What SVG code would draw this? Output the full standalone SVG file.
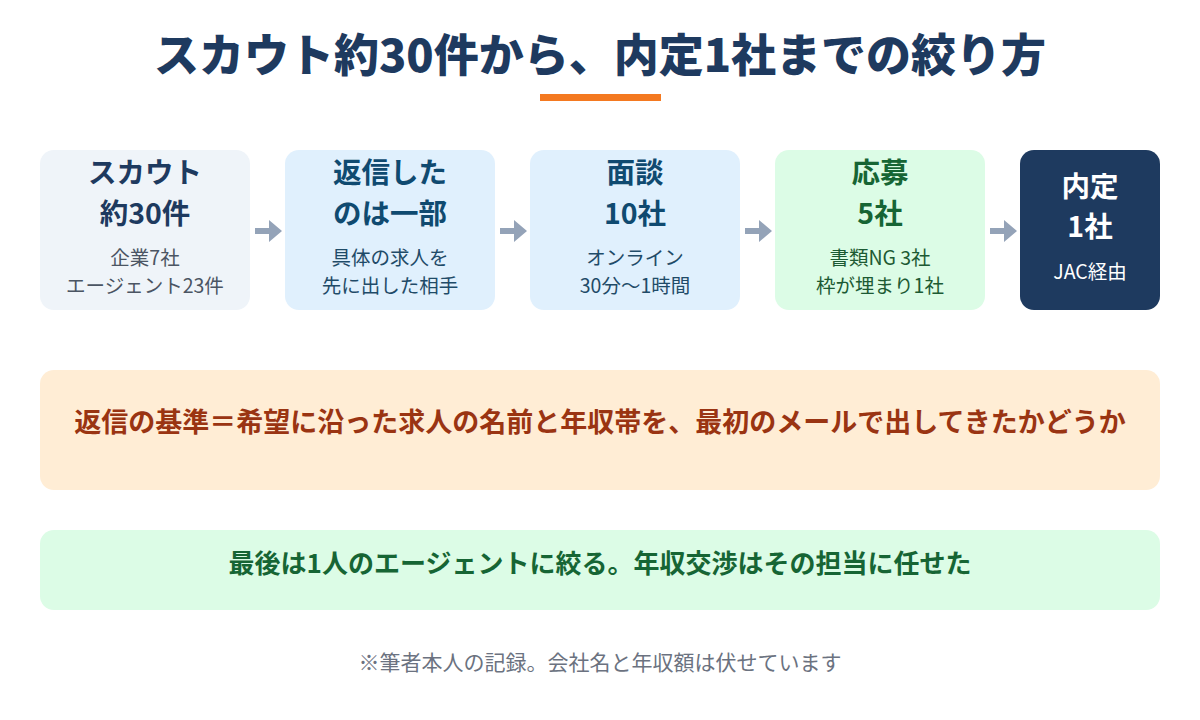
<svg xmlns="http://www.w3.org/2000/svg" width="1200" height="720" viewBox="0 0 1200 720">
<defs>
<style>
text{font-family:"Noto Sans CJK JP","Noto Sans",sans-serif;text-anchor:middle}
.h{font-size:28.5px;font-weight:700}
.s{font-size:19.5px}
.arrow{fill:#94a3b8}
</style>
</defs>
<rect width="1200" height="720" fill="#ffffff"/>
<text x="600" y="72" style="font-size:45px;font-weight:900" fill="#1e3a5f">スカウト約30件から、内定1社までの絞り方</text>
<rect x="540" y="94" width="121" height="7" fill="#f47920"/>

<g id="connectors">
<path class="arrow" d="M255 228h14v-8l13 11-13 11v-8h-14z"/>
<path class="arrow" d="M500 228h14v-8l13 11-13 11v-8h-14z"/>
<path class="arrow" d="M745 228h14v-8l13 11-13 11v-8h-14z"/>
<path class="arrow" d="M990 228h14v-8l13 11-13 11v-8h-14z"/>
</g>

<g id="node-scout">
<rect x="40" y="150" width="210" height="160" rx="14" fill="#eff4f9"/>
<text x="145" y="183" class="h" fill="#1e3a5f">スカウト</text>
<text x="145" y="224" class="h" fill="#1e3a5f">約30件</text>
<text x="145" y="265" class="s" fill="#4b5563">企業7社</text>
<text x="145" y="293" class="s" fill="#4b5563">エージェント23件</text>
</g>

<g id="node-reply">
<rect x="285" y="150" width="210" height="160" rx="14" fill="#e0f0fd"/>
<text x="390" y="183" class="h" fill="#0f4a70">返信した</text>
<text x="390" y="224" class="h" fill="#0f4a70">のは一部</text>
<text x="390" y="265" class="s" fill="#1f4b68">具体の求人を</text>
<text x="390" y="293" class="s" fill="#1f4b68">先に出した相手</text>
</g>

<g id="node-interview">
<rect x="530" y="150" width="210" height="160" rx="14" fill="#e0f0fd"/>
<text x="635" y="183" class="h" fill="#0f4a70">面談</text>
<text x="635" y="224" class="h" fill="#0f4a70">10社</text>
<text x="635" y="265" class="s" fill="#1f4b68">オンライン</text>
<text x="635" y="293" class="s" fill="#1f4b68">30分〜1時間</text>
</g>

<g id="node-apply">
<rect x="775" y="150" width="210" height="160" rx="14" fill="#dcfce6"/>
<text x="880" y="183" class="h" fill="#166534">応募</text>
<text x="880" y="224" class="h" fill="#166534">5社</text>
<text x="880" y="265" class="s" fill="#1c5a33">書類NG 3社</text>
<text x="880" y="293" class="s" fill="#1c5a33">枠が埋まり1社</text>
</g>

<g id="node-offer">
<rect x="1020" y="150" width="140" height="160" rx="14" fill="#1e3a5f"/>
<text x="1090" y="197" class="h" fill="#ffffff">内定</text>
<text x="1090" y="237" class="h" fill="#ffffff">1社</text>
<text x="1090" y="279" class="s" fill="#ffffff">JAC経由</text>
</g>

<g id="note-criteria">
<rect x="40" y="370" width="1120" height="120" rx="14" fill="#ffedd5"/>
<text x="600" y="432" style="font-size:27px;font-weight:700" fill="#9a3412">返信の基準＝希望に沿った求人の名前と年収帯を、最初のメールで出してきたかどうか</text>
</g>

<g id="note-final">
<rect x="40" y="530" width="1120" height="80" rx="14" fill="#dcfce6"/>
<text x="600" y="573" style="font-size:26px;font-weight:700" fill="#166534">最後は1人のエージェントに絞る。年収交渉はその担当に任せた</text>
</g>

<text x="600" y="670" style="font-size:21px" fill="#6b7280">※筆者本人の記録。会社名と年収額は伏せています</text>
</svg>
